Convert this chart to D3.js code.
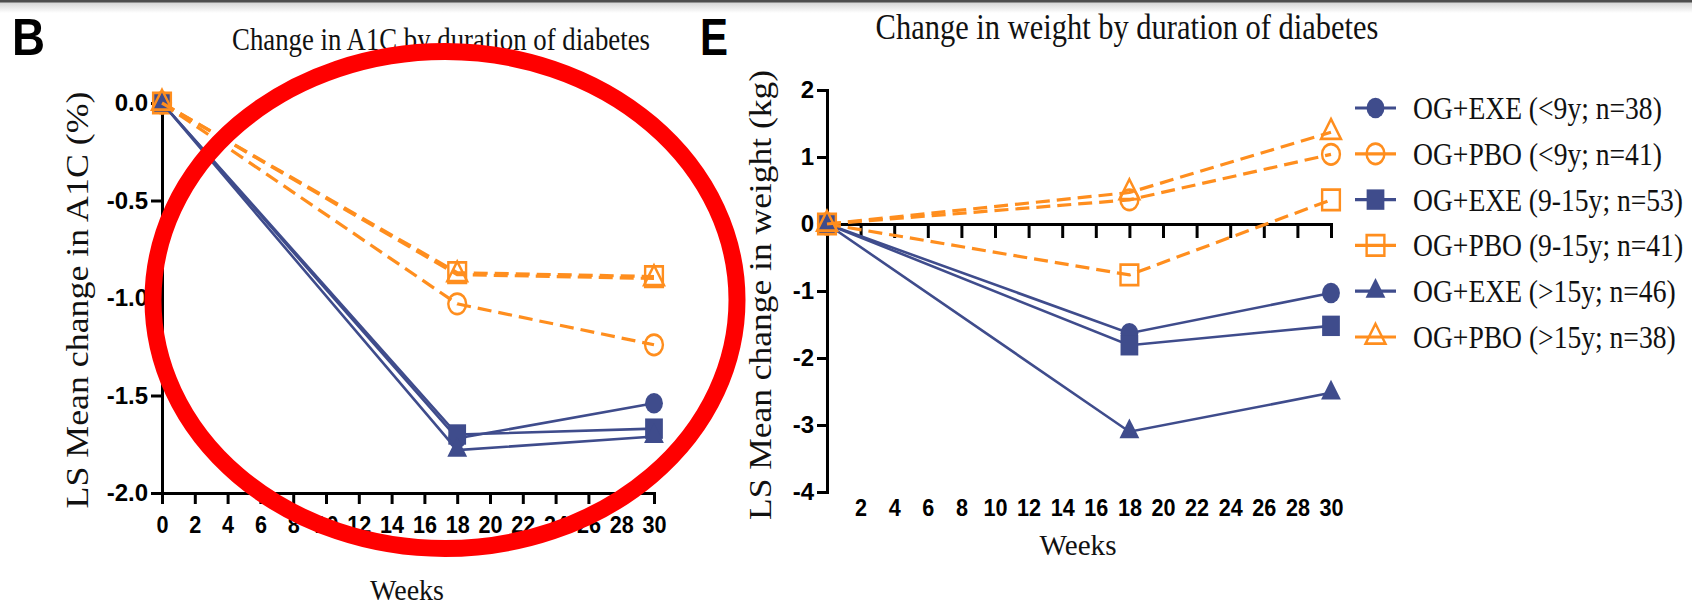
<!DOCTYPE html>
<html>
<head>
<meta charset="utf-8">
<script src="https://cdn.jsdelivr.net/npm/d3@7"></script>
<style>
  html, body { margin: 0; padding: 0; background: #fff; overflow: hidden; }
</style>
</head>
<body>
<svg id="fig" width="1692" height="605"></svg>
<script>
// ---- data ----------------------------------------------------------------
const weeks = [0, 18, 30];

const groupLabels = [
  "OG+EXE (<9y; n=38)",
  "OG+PBO (<9y; n=41)",
  "OG+EXE (9-15y; n=53)",
  "OG+PBO (9-15y; n=41)",
  "OG+EXE (>15y; n=46)",
  "OG+PBO (>15y; n=38)"
];

// LS mean change in A1C (%)
const a1cExeUnder9  = [0, -1.72, -1.54];
const a1cPboUnder9  = [0, -1.03, -1.24];
const a1cExe9to15   = [0, -1.70, -1.67];
const a1cPbo9to15   = [0, -0.87, -0.89];
const a1cExeOver15  = [0, -1.78, -1.71];
const a1cPboOver15  = [0, -0.88, -0.90];

// LS mean change in weight (kg)
const wtExeUnder9   = [0, -1.63, -1.03];
const wtPboUnder9   = [0, 0.36, 1.04];
const wtExe9to15    = [0, -1.81, -1.52];
const wtPbo9to15    = [0, -0.76, 0.36];
const wtExeOver15   = [0, -3.10, -2.52];
const wtPboOver15   = [0, 0.47, 1.37];

const a1cTicks      = [0, -0.5, -1.0, -1.5, -2.0];
const weightTicks   = [2, 1, 0, -1, -2, -3, -4];
const a1cWeekTicks  = [0, 2, 4, 6, 8, 10, 12, 14, 16, 18, 20, 22, 24, 26, 28, 30];
const wtWeekTicks   = [2, 4, 6, 8, 10, 12, 14, 16, 18, 20, 22, 24, 26, 28, 30];

// ---- styles --------------------------------------------------------------
const BLUE = "#3f4c8c";
const ORANGE = "#ff8e1e";
const SERIF = "'Liberation Serif', 'Times New Roman', serif";
const SANS = "'Liberation Sans', Arial, sans-serif";

const groupStyle = [
  { color: BLUE,   shape: d3.symbolCircle,   open: false, dashed: false },
  { color: ORANGE, shape: d3.symbolCircle,   open: true,  dashed: true  },
  { color: BLUE,   shape: d3.symbolSquare,   open: false, dashed: false },
  { color: ORANGE, shape: d3.symbolSquare,   open: true,  dashed: true  },
  { color: BLUE,   shape: d3.symbolTriangle, open: false, dashed: false },
  { color: ORANGE, shape: d3.symbolTriangle, open: true,  dashed: true  }
];
const a1cSeries = [a1cExeUnder9, a1cPboUnder9, a1cExe9to15, a1cPbo9to15, a1cExeOver15, a1cPboOver15];
const wtSeries  = [wtExeUnder9, wtPboUnder9, wtExe9to15, wtPbo9to15, wtExeOver15, wtPboOver15];

const symbolArea = new Map([[d3.symbolCircle, 250], [d3.symbolSquare, 315], [d3.symbolTriangle, 170]]);

// ---- helpers -------------------------------------------------------------
const svg = d3.select("#fig");

// Writes a text and narrows it horizontally, either by a factor k or to a target width.
function addText(parent, str, o) {
  const t = parent.append("text").text(str)
    .attr("text-anchor", o.anchor || "start")
    .attr("fill", o.fill || "#111")
    .style("font-family", o.family || SERIF)
    .style("font-weight", o.weight || "normal")
    .style("font-size", o.size + "px");
  const w = t.node().getComputedTextLength();
  const k = o.width ? o.width / w : (o.k || 1);
  t.attr("transform", `translate(${o.x},${o.y})${o.rotate ? ` rotate(${o.rotate})` : ""} scale(${k},1)`);
  return t;
}

function marker(sel, style, open) {
  const sym = d3.symbol().type(style.shape).size(symbolArea.get(style.shape));
  sel.attr("d", sym)
    .attr("fill", open ? "none" : style.color)
    .attr("stroke", open ? style.color : "none")
    .attr("stroke-width", open ? 2.4 : 0);
}

function styleAxis(g) {
  g.selectAll(".domain").attr("stroke", "#000").attr("stroke-width", 3).attr("stroke-linecap", "square");
  g.selectAll(".tick line").attr("stroke", "#000").attr("stroke-width", 3);
  g.selectAll(".tick text")
    .attr("fill", "#000")
    .style("font-family", SANS)
    .style("font-weight", "bold")
    .style("font-size", "24px");
}

function drawSeries(g, x, y, seriesList) {
  const line = d3.line().x((d, i) => x(weeks[i])).y(d => y(d));
  seriesList.forEach((vals, k) => {
    const st = groupStyle[k];
    g.append("path")
      .attr("d", line(vals))
      .attr("fill", "none")
      .attr("stroke", st.color)
      .attr("stroke-width", st.dashed ? 3.2 : 2.6)
      .attr("stroke-dasharray", st.dashed ? "14,7" : null);
    g.selectAll(null).data(vals).join("path")
      .attr("transform", (d, i) => `translate(${x(weeks[i])},${y(d)}) scale(1,1.15)`)
      .call(marker, st, st.open);
  });
}

// ---- page furniture ------------------------------------------------------
svg.append("rect").attr("width", 1692).attr("height", 605).attr("fill", "#fff");
const defs = svg.append("defs");
const fade = defs.append("linearGradient").attr("id", "topfade")
  .attr("x1", 0).attr("x2", 0).attr("y1", 0).attr("y2", 1);
fade.append("stop").attr("offset", 0).attr("stop-color", "#d2d2d2");
fade.append("stop").attr("offset", 1).attr("stop-color", "#ffffff");
svg.append("rect").attr("x", 0).attr("y", 2).attr("width", 1692).attr("height", 11).attr("fill", "url(#topfade)");
svg.append("rect").attr("x", 0).attr("y", 0).attr("width", 1692).attr("height", 2.5).attr("fill", "#4d4d4d");

// ---- panel B: change in A1C ---------------------------------------------
const xL = d3.scaleLinear().domain([0, 30]).range([162, 654]);
const yL = d3.scaleLinear().domain([-2, 0]).range([493, 103]);
const panelB = svg.append("g");

addText(panelB, "B", { x: 12, y: 55, size: 52, family: SANS, weight: "bold", fill: "#000", width: 33 });
addText(panelB, "Change in A1C by duration of diabetes",
  { x: 441, y: 50, size: 32, anchor: "middle", width: 418 });

panelB.append("g").attr("transform", `translate(${xL(0)},0)`)
  .call(d3.axisLeft(yL).tickValues(a1cTicks).tickFormat(d => d.toFixed(1)).tickSize(11).tickSizeOuter(0).tickPadding(3))
  .call(styleAxis);

const xAxisB = panelB.append("g").attr("transform", `translate(0,${yL(-2)})`)
  .call(d3.axisBottom(xL).tickValues(a1cWeekTicks).tickFormat(d => String(d)).tickSize(11).tickSizeOuter(0).tickPadding(12))
  .call(styleAxis);
xAxisB.selectAll(".tick text").attr("transform", "scale(0.9,1)");

addText(panelB, "LS Mean change in A1C (%)",
  { x: 88, y: 300, rotate: -90, size: 32, anchor: "middle", width: 417 });
addText(panelB, "Weeks", { x: 407, y: 600, size: 30, anchor: "middle", width: 74 });

drawSeries(panelB.append("g"), xL, yL, a1cSeries);

// ---- panel E: change in weight ------------------------------------------
const xR = d3.scaleLinear().domain([0, 30]).range([827, 1331]);
const yR = d3.scaleLinear().domain([-4, 2]).range([492, 90]);
const panelE = svg.append("g");

addText(panelE, "E", { x: 700, y: 55, size: 52, family: SANS, weight: "bold", fill: "#000", width: 28 });
addText(panelE, "Change in weight by duration of diabetes",
  { x: 1127, y: 39, size: 35, anchor: "middle", width: 503 });

panelE.append("g").attr("transform", `translate(${xR(0)},0)`)
  .call(d3.axisLeft(yR).tickValues(weightTicks).tickFormat(d => String(d)).tickSize(10).tickSizeOuter(0).tickPadding(3))
  .call(styleAxis);

// the week axis line and its ticks sit on y = 0; the week labels run below the plot
panelE.append("g").attr("transform", `translate(0,${yR(0)})`)
  .call(d3.axisBottom(xR).tickValues(wtWeekTicks).tickFormat("").tickSize(14).tickSizeOuter(0))
  .call(styleAxis);
const xLabelsE = panelE.append("g").attr("transform", `translate(0,499)`)
  .call(d3.axisBottom(xR).tickValues(wtWeekTicks).tickFormat(d => String(d)).tickSize(0).tickPadding(0))
  .call(styleAxis);
xLabelsE.select(".domain").remove();
xLabelsE.selectAll(".tick text").attr("transform", "scale(0.9,1)");

addText(panelE, "LS Mean change in weight (kg)",
  { x: 771, y: 295, rotate: -90, size: 32, anchor: "middle", width: 450 });
addText(panelE, "Weeks", { x: 1078, y: 555, size: 30, anchor: "middle", width: 77 });

drawSeries(panelE.append("g"), xR, yR, wtSeries);

// ---- legend --------------------------------------------------------------
const legend = svg.append("g");
groupLabels.forEach((label, k) => {
  const st = groupStyle[k];
  const cy = 108 + k * 45.8;
  const row = legend.append("g").attr("transform", `translate(0,${cy})`);
  row.append("line").attr("x1", 1355).attr("x2", 1396).attr("y1", 0).attr("y2", 0)
    .attr("stroke", st.color).attr("stroke-width", 3.2);
  row.append("path").attr("transform", "translate(1375.5,0) scale(1,1.15)").call(marker, st, st.open);
  addText(row, label, { x: 1413, y: 11, size: 31, k: 0.89 });
});

// ---- highlight ring ------------------------------------------------------
svg.append("ellipse")
  .attr("cx", 445).attr("cy", 300).attr("rx", 292).attr("ry", 248.5)
  .attr("fill", "none").attr("stroke", "#ff0000").attr("stroke-width", 17);
</script>
</body>
</html>
